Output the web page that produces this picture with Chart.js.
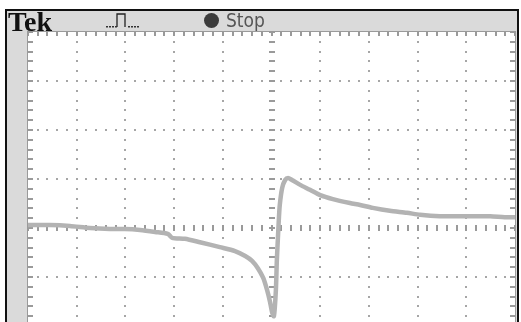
<!DOCTYPE html>
<html>
<head>
<meta charset="utf-8">
<script src="https://cdn.jsdelivr.net/npm/chart.js@4/dist/chart.umd.min.js"></script>
<style>
  html, body { margin: 0; padding: 0; background: #ffffff; overflow: hidden; }
  #wrap { width: 521px; height: 322px; }
</style>
</head>
<body>
<div id="wrap"><canvas id="scope" width="521" height="322"></canvas></div>
<script>
// Horizontal position of each sample, in screen divisions (0..10)
const timeDiv = [
  0.00, 0.45, 0.86, 1.27, 1.68, 1.99, 2.30, 2.61, 2.87, 2.96,
  3.22, 3.53, 3.94, 4.25, 4.46, 4.60, 4.72, 4.83, 4.91, 4.97,
  5.01, 5.05, 5.09, 5.11, 5.13, 5.15, 5.17, 5.22, 5.28, 5.34,
  5.42, 5.59, 5.79, 6.00, 6.26, 6.61, 6.82, 7.08, 7.43, 7.78,
  8.05, 8.46, 8.87, 9.14, 9.49, 9.79, 10.00
];
// Trace level at each sample, in vertical divisions from the centre line
const voltDiv = [
  0.06, 0.06, 0.04, 0.00, -0.02, -0.02, -0.04, -0.08, -0.12, -0.20,
  -0.22, -0.29, -0.39, -0.47, -0.57, -0.67, -0.82, -1.02, -1.27, -1.51,
  -1.71, -1.80, -1.27, -0.65, -0.24, 0.16, 0.47, 0.82, 0.98, 1.02,
  0.98, 0.88, 0.78, 0.67, 0.59, 0.51, 0.47, 0.41, 0.35, 0.31,
  0.27, 0.24, 0.24, 0.24, 0.24, 0.22, 0.22
];
// Graticule divisions
const xDivisions = [0, 1, 2, 3, 4, 5, 6, 7, 8, 9, 10];
const yDivisions = [4, 3, 2, 1, 0, -1];
const minorPerDiv = 5;

const points = timeDiv.map((t, i) => ({ x: t, y: voltDiv[i] }));

// Scope bezel, graticule and status bar
const scopeScreen = {
  id: 'scopeScreen',
  beforeDraw(chart) {
    const ctx = chart.ctx;
    const a = chart.chartArea;
    ctx.save();
    ctx.fillStyle = '#ffffff';
    ctx.fillRect(0, 0, chart.width, chart.height);
    ctx.fillStyle = '#dadada';
    ctx.fillRect(6, 10, 512, chart.height);
    ctx.strokeStyle = '#111111';
    ctx.lineWidth = 2;
    ctx.beginPath();
    ctx.moveTo(6, chart.height + 2);
    ctx.lineTo(6, 10);
    ctx.lineTo(518, 10);
    ctx.lineTo(518, chart.height + 2);
    ctx.stroke();
    ctx.fillStyle = '#ffffff';
    ctx.fillRect(a.left, a.top, a.right - a.left, a.bottom - a.top);
    ctx.restore();
  },
  beforeDatasetsDraw(chart) {
    const ctx = chart.ctx;
    const a = chart.chartArea;
    const xs = chart.scales.x, ys = chart.scales.y;
    const step = 1 / minorPerDiv;
    ctx.save();
    // dotted division lines
    ctx.fillStyle = '#a6a6a6';
    xDivisions.forEach(d => {
      if (d === 0 || d === 10 || d === 5) return;
      const px = Math.round(xs.getPixelForValue(d));
      for (let v = yDivisions[0]; v >= ys.min - 0.01; v -= step) {
        const py = Math.round(ys.getPixelForValue(v));
        ctx.fillRect(px - 1, py - 1, 2, 2);
      }
    });
    yDivisions.forEach(d => {
      if (d === 4 || d === 0) return;
      const py = Math.round(ys.getPixelForValue(d));
      for (let v = 0; v <= 10.01; v += step) {
        const px = Math.round(xs.getPixelForValue(v));
        ctx.fillRect(px - 1, py - 1, 2, 2);
      }
    });
    // centre axes with minor ticks
    ctx.fillStyle = '#9a9a9a';
    const cy = Math.round(ys.getPixelForValue(0));
    for (let v = 0; v <= 10.01; v += step) {
      const px = Math.round(xs.getPixelForValue(v));
      ctx.fillRect(px - 1, cy - 3, 2, 6);
    }
    const cx = Math.round(xs.getPixelForValue(5));
    for (let v = yDivisions[0]; v >= ys.min - 0.01; v -= step) {
      const py = Math.round(ys.getPixelForValue(v));
      ctx.fillRect(cx - 3, py - 1, 6, 2);
    }
    // edge ticks
    for (let v = 0; v <= 10.01; v += step) {
      const px = Math.round(xs.getPixelForValue(v));
      ctx.fillRect(px - 1, a.top, 2, 4);
    }
    for (let v = yDivisions[0]; v >= ys.min - 0.01; v -= step) {
      const py = Math.round(ys.getPixelForValue(v));
      ctx.fillRect(a.left, py - 1, 5, 2);
      ctx.fillRect(a.right - 5, py - 1, 5, 2);
    }
    // screen outline
    ctx.strokeStyle = '#9a9a9a';
    ctx.lineWidth = 1;
    ctx.strokeRect(a.left - 0.5, a.top - 0.5, a.right - a.left + 1, a.bottom - a.top + 2);
    ctx.restore();
  },
  afterDraw(chart) {
    const ctx = chart.ctx;
    ctx.save();
    // brand mark
    ctx.fillStyle = '#111111';
    ctx.font = 'bold 28px "Liberation Serif", "DejaVu Serif", serif';
    ctx.textBaseline = 'alphabetic';
    ctx.fillText('Tek', 8, 31);
    // trigger type glyph
    ctx.strokeStyle = '#222222';
    ctx.lineWidth = 1.3;
    ctx.beginPath();
    ctx.moveTo(117, 27);
    ctx.lineTo(117, 14);
    ctx.lineTo(125, 14);
    ctx.lineTo(125, 27);
    ctx.stroke();
    ctx.fillStyle = '#333333';
    [106, 109, 112, 115, 128, 131, 134, 137].forEach(x => ctx.fillRect(x, 26, 2, 1.5));
    // acquisition state
    ctx.fillStyle = '#3c3c3c';
    ctx.beginPath();
    ctx.arc(211.5, 20.5, 7.5, 0, Math.PI * 2);
    ctx.fill();
    ctx.fillStyle = '#555555';
    ctx.font = '19px "Liberation Sans Narrow", "DejaVu Sans Condensed", "Liberation Sans", sans-serif';
    ctx.fillText('Stop', 226, 27);
    ctx.restore();
  }
};

new Chart(document.getElementById('scope'), {
  type: 'scatter',
  data: {
    datasets: [{
      data: points,
      showLine: true,
      borderColor: '#b3b3b3',
      borderWidth: 4.5,
      pointRadius: 0,
      tension: 0.25,
      borderJoinStyle: 'round',
      borderCapStyle: 'round'
    }]
  },
  options: {
    responsive: false,
    animation: false,
    devicePixelRatio: 1,
    layout: { padding: { left: 28, top: 32, right: 6, bottom: 0 } },
    plugins: { legend: { display: false }, tooltip: { enabled: false } },
    scales: {
      x: { type: 'linear', min: 0, max: 10, display: false },
      y: { type: 'linear', min: 4 - 290 / 49, max: 4, display: false }
    }
  },
  plugins: [scopeScreen]
});
</script>
</body>
</html>
